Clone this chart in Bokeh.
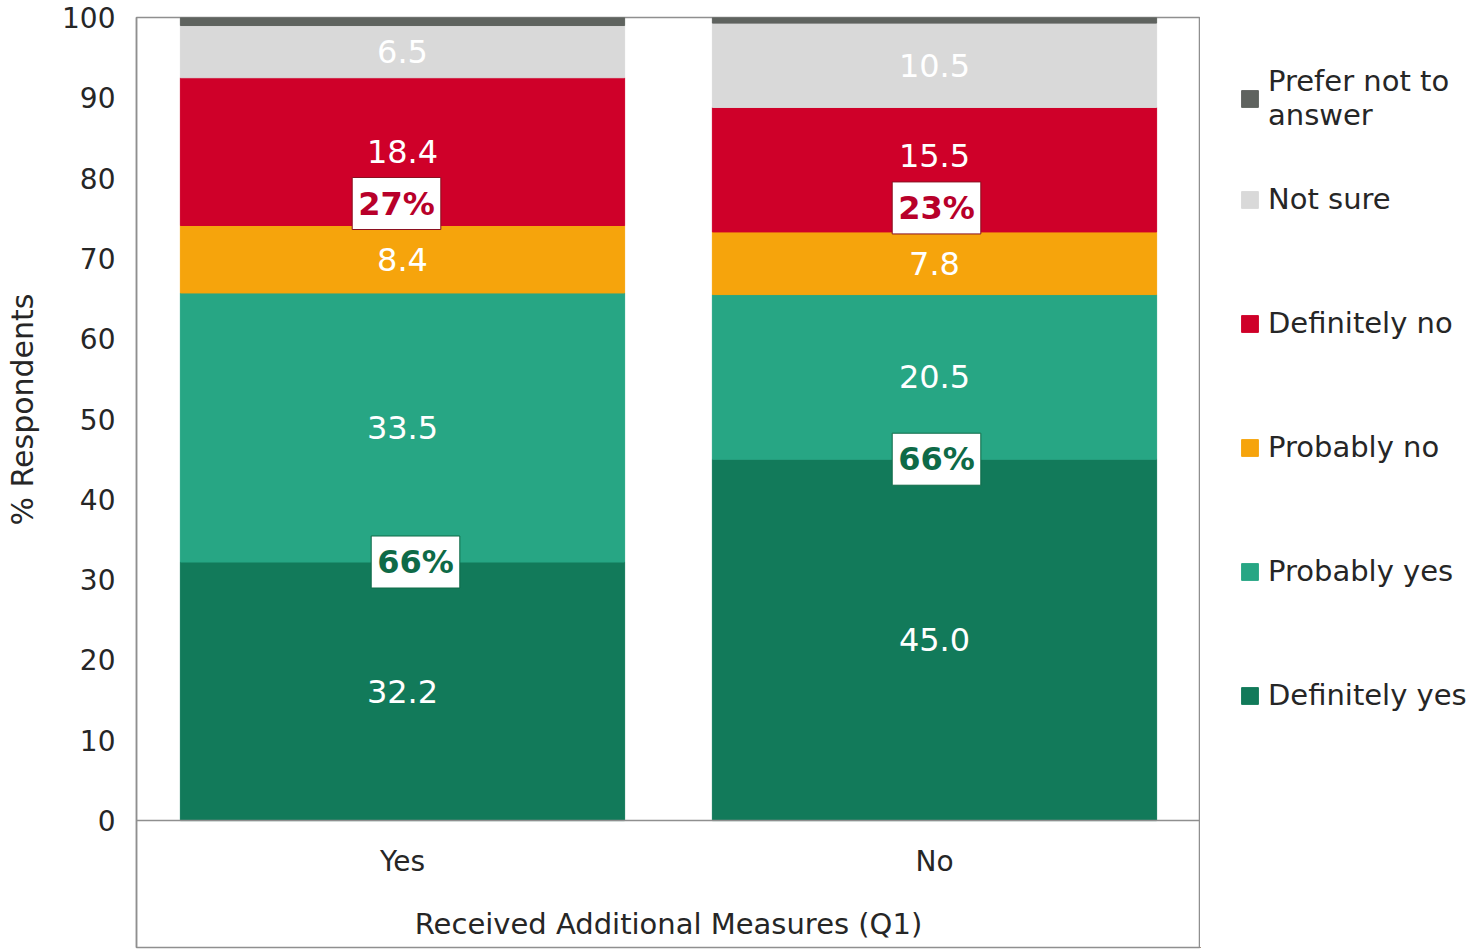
import math

from bokeh.core.properties import value
from bokeh.embed import file_html
from bokeh.layouts import row
from bokeh.models import (ColumnDataSource, FactorRange, FixedTicker, Label,
                          Legend, LegendItem, Range1d)
from bokeh.plotting import figure
from bokeh.resources import INLINE

# --- data -----------------------------------------------------------------
groups = ["Yes", "No"]
responses = ["Definitely yes", "Probably yes", "Probably no",
             "Definitely no", "Not sure", "Prefer not to answer"]
definitely_yes = [32.2, 45.0]
probably_yes = [33.5, 20.5]
probably_no = [8.4, 7.8]
definitely_no = [18.4, 15.5]
not_sure = [6.5, 10.5]
prefer_not = [1.0, 0.7]
y_ticks = [0, 10, 20, 30, 40, 50, 60, 70, 80, 90, 100]

colors = ["#127a5a", "#27a684", "#f6a40c", "#cf0029", "#d9d9d9", "#5f635f"]
series = [definitely_yes, probably_yes, probably_no, definitely_no, not_sure, prefer_not]

FONT = value("DejaVu Sans")
TEXT = "#262626"
FRAME = "#8f8f8f"
HEIGHT = 949


def blank_panel(width):
    """An axis-less strip used for side texts (titles, legend)."""
    f = figure(width=width, height=HEIGHT, min_border=0,
               x_axis_location=None, y_axis_location=None,
               x_range=Range1d(0, 1), y_range=Range1d(0, 1),
               output_backend="svg", toolbar_location=None,
               background_fill_color="white", border_fill_color="white")
    f.outline_line_color = None
    f.grid.visible = False
    return f


source = ColumnDataSource(dict(group=groups, **{name: vals for name, vals in zip(responses, series)}))

# --- main chart -------------------------------------------------------------
p = figure(
    x_range=FactorRange(*groups),
    y_range=Range1d(-15.8, 100),
    width=1156, height=HEIGHT,
    min_border_left=92, min_border_right=0,
    min_border_top=17, min_border_bottom=2,
    output_backend="svg", toolbar_location=None,
    background_fill_color="white", border_fill_color="white",
)
p.outline_line_color = FRAME
p.outline_line_width = 1.5
p.grid.visible = False

renderers = p.vbar_stack(responses, x="group", width=0.835, color=colors, source=source)

p.xaxis.fixed_location = 0
p.xaxis.axis_line_color = FRAME
p.xaxis.axis_line_width = 1.5
p.xaxis.major_tick_line_color = None
p.xaxis.minor_tick_line_color = None
p.xaxis.major_label_standoff = 18
p.xaxis.major_label_text_font = "DejaVu Sans"
p.xaxis.major_label_text_font_size = "28px"
p.xaxis.major_label_text_color = TEXT
p.xaxis.axis_label = "Received Additional Measures (Q1)"
p.xaxis.axis_label_standoff = 26
p.xaxis.axis_label_text_font = "DejaVu Sans"
p.xaxis.axis_label_text_font_size = "29px"
p.xaxis.axis_label_text_font_style = "normal"
p.xaxis.axis_label_text_color = TEXT

p.yaxis.ticker = FixedTicker(ticks=y_ticks)
p.yaxis.axis_line_color = FRAME
p.yaxis.axis_line_width = 1.5
p.yaxis.major_tick_line_color = None
p.yaxis.minor_tick_line_color = None
p.yaxis.major_label_standoff = 15
p.yaxis.major_label_text_font = "DejaVu Sans"
p.yaxis.major_label_text_font_size = "28px"
p.yaxis.major_label_text_color = TEXT

# segment value labels (all but the thin top segment)
lab_x, lab_y, lab_t, lab_dy = [], [], [], []
nudge = {("No", "Definitely no"): -14}
for gi, g in enumerate(groups):
    base = 0.0
    for name, vals in zip(responses, series):
        v = vals[gi]
        if name != "Prefer not to answer":
            lab_x.append(g)
            lab_y.append(base + v / 2)
            lab_t.append(f"{v:.1f}")
            lab_dy.append(nudge.get((g, name), 0))
        base += v

p.text(x="x", y="y", text="t", y_offset="dy",
       source=ColumnDataSource(dict(x=lab_x, y=lab_y, t=lab_t, dy=lab_dy)),
       text_color="white", text_align="center", text_baseline="middle",
       text_font=FONT, text_font_size="32px")

# combined share call-outs
pos_share = [math.floor(a + b + 0.5) for a, b in zip(definitely_yes, probably_yes)]
neg_share = [math.floor(a + b + 0.5) for a, b in zip(probably_no, definitely_no)]
neg_base = [a + b + c for a, b, c in zip(definitely_yes, probably_yes, probably_no)]

callout_style = dict(text_align="center", text_baseline="middle",
                     text_font=FONT, text_font_size="32px", text_font_style="bold",
                     background_fill_color="white", border_line_width=1,
                     padding=(6, 7))

p.text(x=groups, y=definitely_yes, text=[f"{s}%" for s in pos_share],
       x_offset=[13, 2], text_color="#0e6a47", border_line_color="#0e6a47",
       **callout_style)
p.text(x=groups, y=neg_base, text=[f"{s}%" for s in neg_share],
       x_offset=[-6, 2], y_offset=[-22, -24], text_color="#b8002a",
       border_line_color="#8a1020", **callout_style)

# --- y-axis title strip -----------------------------------------------------
yt = blank_panel(44)
yt.add_layout(Label(
    x=22, y=538, x_units="screen", y_units="screen",
    text="% Respondents", angle=math.pi / 2,
    text_align="center", text_baseline="middle",
    text_font="DejaVu Sans", text_font_size="30px", text_color=TEXT,
))

# --- legend strip -----------------------------------------------------------
lg = blank_panel(272)
# off-range proxies that only lend their colours to the legend swatches
swatches = [lg.vbar(x=[-5], top=[-5], width=1, color=c) for c in colors]

legend_style = dict(label_text_font="DejaVu Sans", label_text_font_size="29px",
                    label_text_color=TEXT, glyph_width=21, glyph_height=21,
                    label_standoff=8, padding=0, margin=0, label_height=34,
                    border_line_color=None, background_fill_alpha=0)

legend_top = Legend(items=[LegendItem(label="Prefer not to\nanswer", renderers=[swatches[5]])],
                    location=(39, 815), **legend_style)
legend_rest = Legend(items=[LegendItem(label=responses[i], renderers=[swatches[i]])
                            for i in (4, 3, 2, 1, 0)],
                     location=(39, 235), spacing=90, **legend_style)
lg.add_layout(legend_top)
lg.add_layout(legend_rest)

layout = row(yt, p, lg, spacing=0)
open("out.html", "w").write(file_html(layout, INLINE))
